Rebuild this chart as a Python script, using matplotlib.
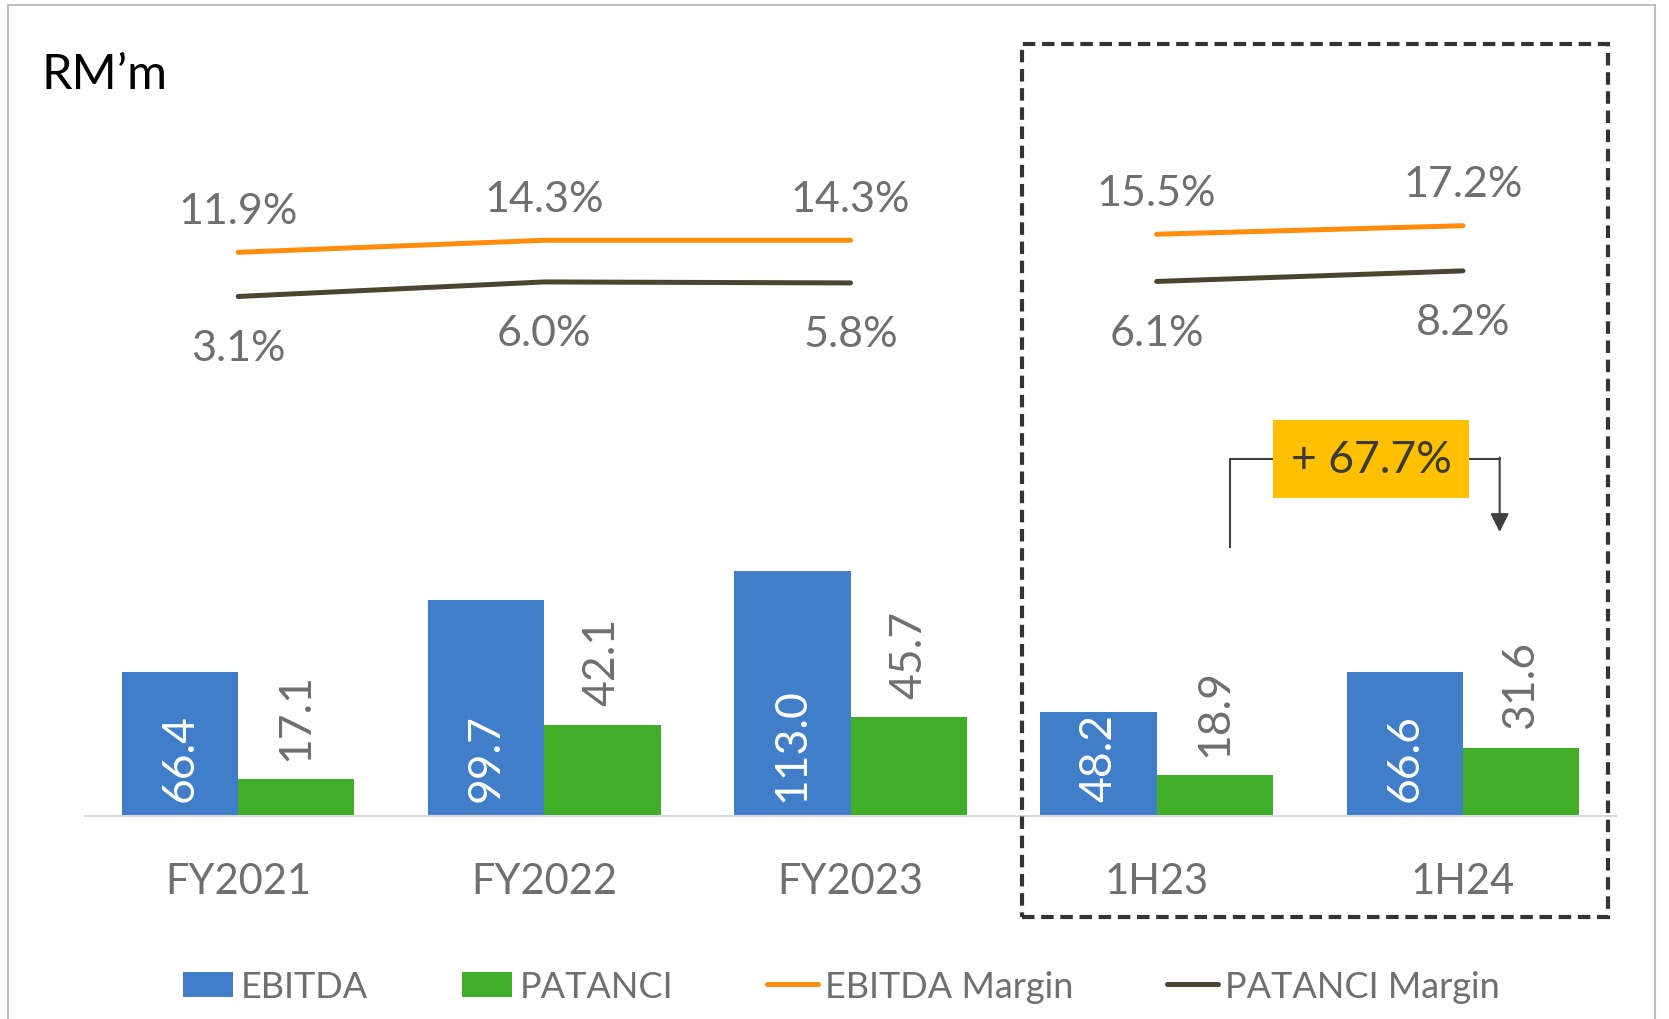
import matplotlib
matplotlib.use("Agg")
import matplotlib.pyplot as plt
from matplotlib.patches import Rectangle
import numpy as np

plt.rcParams['font.family'] = ['Lato', 'DejaVu Sans']

periods = ["FY2021", "FY2022", "FY2023", "1H23", "1H24"]
ebitda = [66.4, 99.7, 113.0, 48.2, 66.6]
patanci = [17.1, 42.1, 45.7, 18.9, 31.6]
ebitda_margin = [11.9, 14.3, 14.3, 15.5, 17.2]
patanci_margin = [3.1, 6.0, 5.8, 6.1, 8.2]
growth_label = "+ 67.7%"

blue = "#417ECA"
green = "#41AE2A"
orange = "#FF8C0A"
dark = "#4A4530"
grey = "#6F6F6F"

fig = plt.figure(figsize=(16.69, 10.20), dpi=100)
ax = fig.add_axes([85 / 1669, 203 / 1020, 1531 / 1669, 772 / 1020])

x = np.arange(len(periods))
w = 0.38
b1 = ax.bar(x - w / 2, ebitda, w, color=blue, label="EBITDA")
b2 = ax.bar(x + w / 2, patanci, w, color=green, label="PATANCI")
ax.set_xlim(-0.5, 4.5)
ax.set_ylim(0, 356.4)

for xi, v in zip(x, ebitda):
    ax.annotate(f"{v:.1f}", (xi - w / 2, 0), xytext=(0, 11), textcoords="offset points",
                rotation=90, rotation_mode="anchor", ha="left", va="center",
                fontsize=32, color="white")
for xi, v in zip(x, patanci):
    ax.annotate(f"{v:.1f}", (xi + w / 2, v), xytext=(0, 14), textcoords="offset points",
                rotation=90, rotation_mode="anchor", ha="left", va="center",
                fontsize=32, color=grey)

ax.set_xticks(x)
ax.set_xticklabels(periods, fontsize=30, color=grey)
ax.tick_params(axis="x", length=0, pad=33)
ax.set_yticks([])
for s in ["top", "left", "right"]:
    ax.spines[s].set_visible(False)
ax.spines["bottom"].set_color("#D9D9D9")
ax.spines["bottom"].set_linewidth(1.5)

# margins on a second axis
ax2 = ax.twinx()
ax2.set_ylim(-100.4, 53.4)
ax2.set_yticks([])
for s in ax2.spines.values():
    s.set_visible(False)
groups = [slice(0, 3), slice(3, 5)]
em = np.array(ebitda_margin)
pm = np.array(patanci_margin)
for g in groups:
    l1, = ax2.plot(x[g], em[g], color=orange, lw=3.6, solid_capstyle="round")
    l2, = ax2.plot(x[g], pm[g], color=dark, lw=3.6, solid_capstyle="round")
l1.set_label("EBITDA Margin")
l2.set_label("PATANCI Margin")

for xi, v in zip(x, ebitda_margin):
    ax2.annotate(f"{v:.1f}%", (xi, v), xytext=(0, 30), textcoords="offset points",
                 ha="center", va="center", fontsize=31, color=grey)
for xi, v in zip(x, patanci_margin):
    ax2.annotate(f"{v:.1f}%", (xi, v), xytext=(0, -37), textcoords="offset points",
                 ha="center", va="center", fontsize=31, color=grey)

# growth callout
ax.add_patch(Rectangle((3.38, 146.8), 0.64, 36, facecolor="#FFC000", edgecolor="none", zorder=3))
ax.text(3.70, 164.8, growth_label, ha="center", va="center", fontsize=32, color="#3A3A3A", zorder=4)
ax.plot([3.24, 3.24, 3.38], [124.2, 164.8, 164.8], color="#404040", lw=1.5, zorder=2)
ax.plot([4.02, 4.12], [164.8, 164.8], color="#404040", lw=1.5, zorder=2)
ax.annotate("", xy=(4.12, 131.1), xytext=(4.12, 165.5),
            arrowprops=dict(arrowstyle="-|>", color="#404040", lw=1.5,
                            mutation_scale=28, shrinkA=0, shrinkB=0))

# dashed box around half-year periods
fig.add_artist(Rectangle((1022 / 1669, 1 - 918 / 1020), (1608 - 1022) / 1669, (918 - 45) / 1020,
                         transform=fig.transFigure, fill=False, edgecolor="#333333",
                         lw=3.0, ls=(0, (3.0, 1.6))))
# outer frame
fig.add_artist(Rectangle((8 / 1669, -0.05), (1655 - 8) / 1669, 1.044, transform=fig.transFigure,
                         fill=False, edgecolor="#BFBFBF", lw=1.5))

fig.text(41 / 1669, 1 - 89 / 1020, "RM\u2019m", fontsize=35, color="black", ha="left", va="baseline")

handles = [b1, b2, l1, l2]
fig.legend(handles, [h.get_label() for h in handles], loc="center", bbox_to_anchor=(0.504, 0.032),
           ncol=4, frameon=False, fontsize=26, handlelength=1.4, handleheight=0.7,
           handletextpad=0.2, columnspacing=2.6, labelcolor=grey)

fig.savefig("out.png", dpi=100)
